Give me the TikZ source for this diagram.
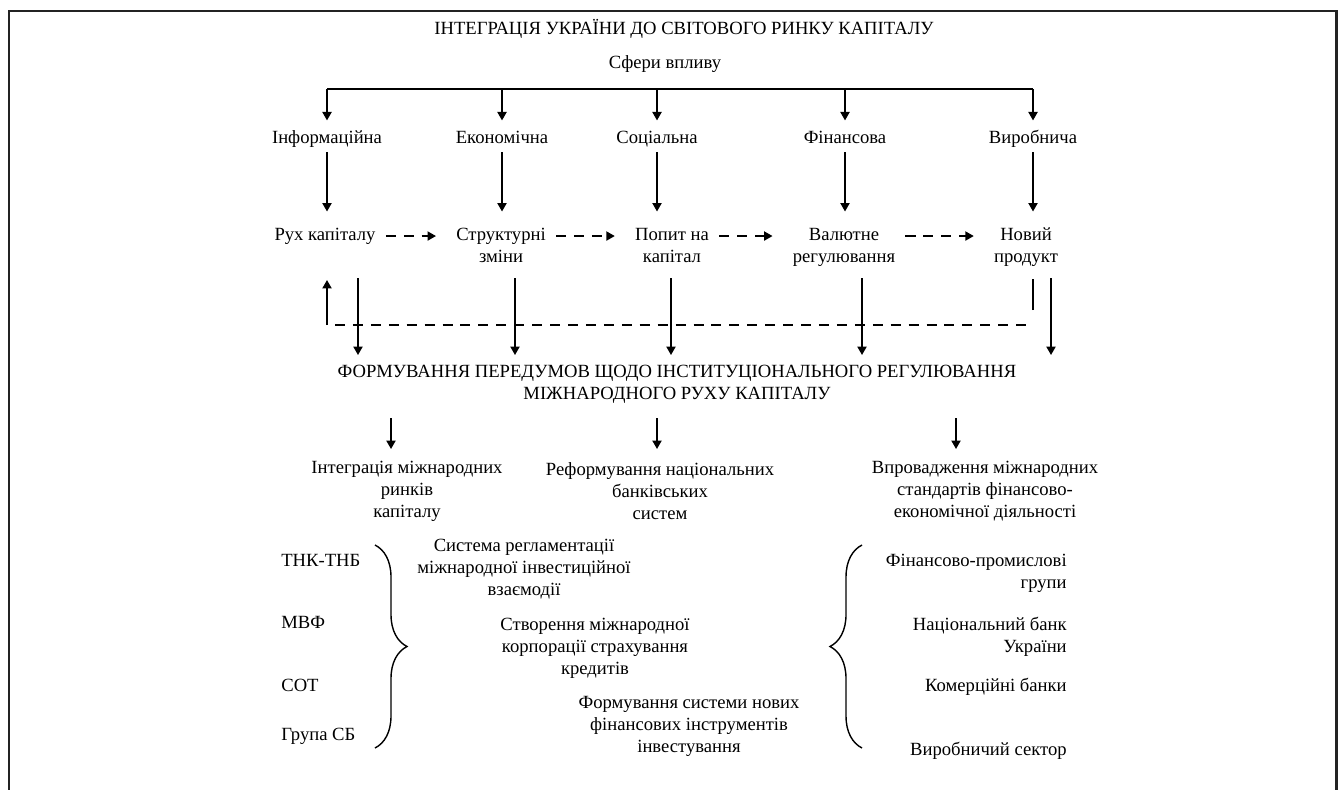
\documentclass[tikz,border=0pt]{standalone}
\usepackage{fontspec}
\setmainfont{Liberation Serif}
\usepackage{xcolor}
\usepackage{tikz}
\usetikzlibrary{decorations.pathreplacing}
\usetikzlibrary{positioning, calc, arrows.meta}
\definecolor{framegray}{RGB}{35, 35, 35}

\begin{document}
\begin{tikzpicture}[
                % Стиль для написів
                txt/.style={
                    inner sep=0pt, align=center,
                    font=\fontsize{10.6}{12.5}\selectfont
                },
                % Стиль для однорядкових написів
                lbl/.style={
                    txt, text height=0.66em, text depth=0.22em
                },
                % Стиль для суцільних стрілок
                arr/.style={
                    ->, >={Triangle[length=4.8pt, width=5.2pt]}, line width=0.9pt
                },
                % Стиль для пунктирних стрілок
                dasharr/.style={
                    arr, dash pattern=on 5.7pt off 4.5pt
                },
                % Стиль для пунктирної лінії зворотного зв'язку
                dashline/.style={
                    line width=0.9pt, dash pattern=on 5.7pt off 4.5pt
                },
                % Стиль для фігурних дужок
                brc/.style={
                    decorate, decoration={brace, amplitude=0.64cm}, line width=0.8pt
                }
            ]
                \useasboundingbox (0,0) rectangle (26.8,-15.78);
                % 0. Рамка (без нижньої лінії)
                \draw[framegray, line width=1.7pt] (0.18,-15.9) -- (0.18,-0.22) -- (26.73,-0.22) -- (26.73,-15.9);

                % 1. Заголовок і сфери впливу
                \node[lbl] (title) at (13.68,-0.62) {ІНТЕГРАЦІЯ УКРАЇНИ ДО СВІТОВОГО РИНКУ КАПІТАЛУ};
                \node[lbl] (sfery) at (13.3,-1.3) {Сфери впливу};

                \node[lbl] (inf) at (6.54,-2.8) {Інформаційна};
                \node[lbl] (eko) at (10.04,-2.8) {Економічна};
                \node[lbl] (soc) at (13.14,-2.8) {Соціальна};
                \node[lbl] (fin) at (16.9,-2.8) {Фінансова};
                \node[lbl] (vyr) at (20.66,-2.8) {Виробнича};

                % 2. Другий ряд
                \node[txt, anchor=north] (ruh) at (6.5,-4.55) {Рух капіталу};
                \node[txt, anchor=north] (str) at (10.02,-4.55) {Структурні\\зміни};
                \node[txt, anchor=north] (pop) at (13.44,-4.55) {Попит на\\капітал};
                \node[txt, anchor=north] (val) at (16.88,-4.55) {Валютне\\регулювання};
                \node[txt, anchor=north] (nov) at (20.52,-4.55) {Новий\\продукт};

                % 3. Шина і стрілки до сфер
                \coordinate (bus) at (0,-1.78);
                \draw[line width=0.9pt] (inf.north |- bus) -- (vyr.north |- bus);
                \foreach \n in {inf, eko, soc, fin, vyr}
                    \draw[arr, shorten >=0.23cm] (\n.north |- bus) -- (\n.north);
                \foreach \n/\m in {inf/ruh, eko/str, soc/pop, fin/val, vyr/nov}
                    \draw[arr, shorten <=0.08cm, shorten >=0.32cm] (\n.south) -- (\n.south |- \m.north);

                % 4. Пунктирні стрілки між елементами
                \draw[dasharr, shorten <=0.2cm, shorten >=0.4cm] (ruh.east) -- (str.west |- ruh.east);
                \draw[dasharr, shorten <=0.2cm, shorten >=0.4cm] (str.east |- ruh.east) -- (pop.west |- ruh.east);
                \draw[dasharr, shorten <=0.2cm, shorten >=0.4cm] (pop.east |- ruh.east) -- (val.west |- ruh.east);
                \draw[dasharr, shorten <=0.2cm, shorten >=0.4cm] (val.east |- ruh.east) -- (nov.west |- ruh.east);

                % 5. Формування передумов
                \node[txt] (form) at (13.54,-7.69) {ФОРМУВАННЯ ПЕРЕДУМОВ ЩОДО ІНСТИТУЦІОНАЛЬНОГО РЕГУЛЮВАННЯ\\МІЖНАРОДНОГО РУХУ КАПІТАЛУ};
                \foreach \x in {7.16, 10.3, 13.42, 17.24, 21.02}
                    \draw[arr, shorten >=0.2cm] (\x,-5.56) -- (\x,0 |- form.north);

                % 6. Зворотний зв'язок
                \coordinate (fbL) at (6.54,-6.5);
                \coordinate (fbR) at (20.66,-6.5);
                \draw[arr] (fbL) -- ++(0,0.9);
                \draw[dashline] ([xshift=0.16cm]fbL) -- (fbR);
                \draw[line width=0.9pt] ([yshift=0.3cm]fbR) -- ++(0,0.62);

                % 7. Напрями регулювання
                \foreach \x in {7.82, 13.14, 19.12}
                    \draw[arr] (\x,-8.36) -- (\x,-8.98);
                \node[txt] (intg) at (8.14,-9.82) {Інтеграція міжнародних\\ринків\\капіталу};
                \node[txt] (ref) at (13.2,-9.82) {Реформування національних\\банківських\\систем};
                \node[txt] (vpr) at (19.7,-9.82) {Впровадження міжнародних\\стандартів фінансово-\\економічної діяльності};

                % 8. Ліва група
                \node[lbl, anchor=west] (tnk) at (5.62,-11.26) {ТНК-ТНБ};
                \node[lbl, anchor=west] (mvf) at (5.62,-12.5) {МВФ};
                \node[lbl, anchor=west] (sot) at (5.62,-13.76) {СОТ};
                \node[lbl, anchor=west] (grsb) at (5.62,-14.74) {Група СБ};
                \draw[brc] (7.5,-10.9) -- (7.5,-14.96);

                % 9. Механізми
                \node[txt] (sys) at (10.48,-11.38) {Система регламентації\\міжнародної інвестиційної\\взаємодії};
                \node[txt] (stv) at (11.9,-12.96) {Створення міжнародної\\корпорації страхування\\кредитів};
                \node[txt] (fsn) at (13.78,-14.52) {Формування системи нових\\фінансових інструментів\\інвестування};

                % 10. Права група
                \draw[brc] (17.24,-14.96) -- (17.24,-10.9);
                \node[txt, anchor=east, align=right] (fpg) at (21.34,-11.47) {Фінансово-промислові\\групи};
                \node[txt, anchor=east, align=right] (nbu) at (21.34,-12.73) {Національний банк\\України};
                \node[lbl, anchor=east] (kb) at (21.34,-13.76) {Комерційні банки};
                \node[lbl, anchor=east] (vs) at (21.34,-15.04) {Виробничий сектор};

            \end{tikzpicture}
\end{document}
